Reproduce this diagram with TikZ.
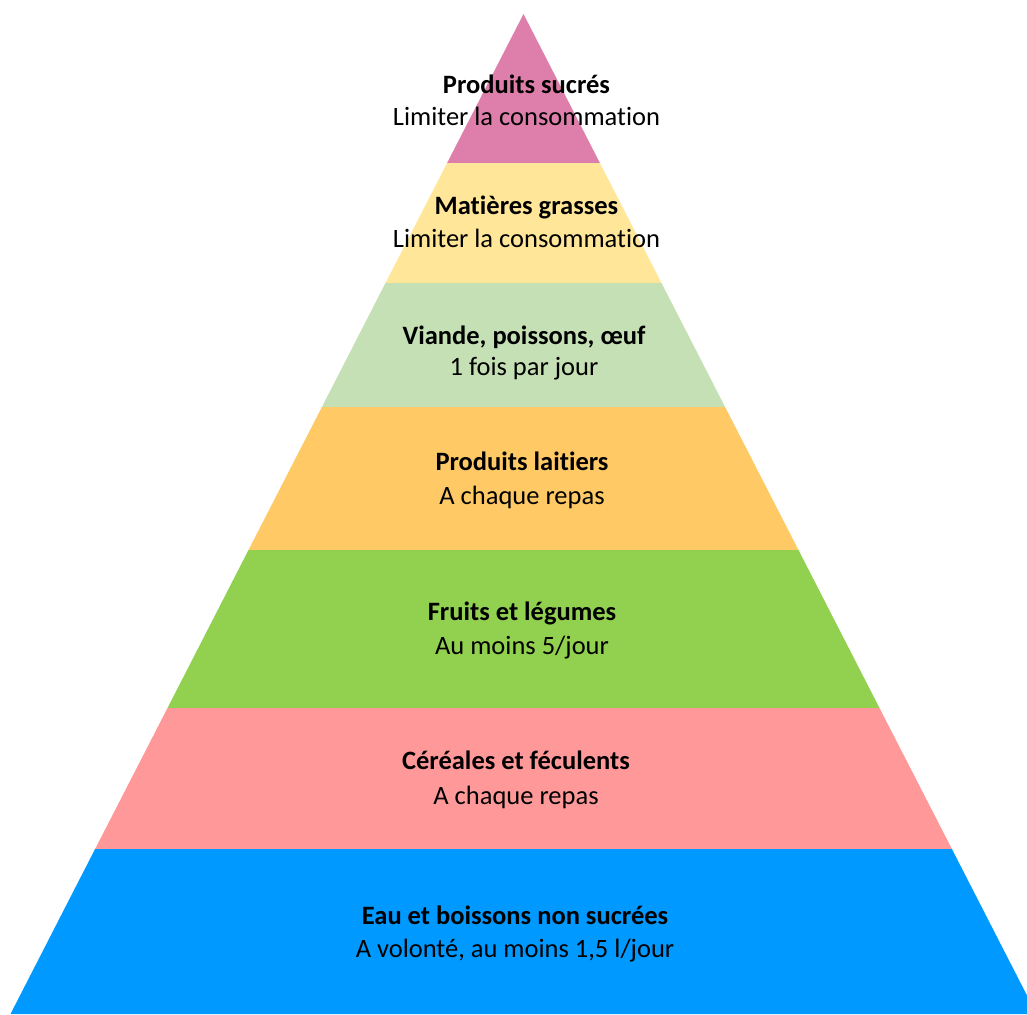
\documentclass[tikz,border=0pt]{standalone}
\usepackage{fontspec}
\setmainfont[Ligatures=NoCommon]{Carlito}
\definecolor{cSucre}{HTML}{DE7FAB}
\definecolor{cGras}{HTML}{FFE699}
\definecolor{cViande}{HTML}{C5E0B4}
\definecolor{cLait}{HTML}{FFCA66}
\definecolor{cFruit}{HTML}{92D050}
\definecolor{cCereale}{HTML}{FF9999}
\definecolor{cEau}{HTML}{0099FF}
\tikzset{
  band/.style={fill=#1, draw=none},
  ttl/.style={anchor=base, inner sep=0pt, font=\fontsize{26.5}{32}\selectfont\bfseries},
  sub/.style={anchor=base, inner sep=0pt, font=\fontsize{26.5}{32}\selectfont},
}
\begin{document}
\begin{tikzpicture}[x=1pt, y=-1pt]
\useasboundingbox (0,0) rectangle (1027,1014);
\clip (0,0) rectangle (1027,1014);
% boundary coordinates (left L, right R) along the pyramid edges
\coordinate (A)  at (523.5,14);
\coordinate (L1) at (447.1,163);  \coordinate (R1) at (599.9,163);
\coordinate (L2) at (385.5,283);  \coordinate (R2) at (661.5,283);
\coordinate (L3) at (321.9,407);  \coordinate (R3) at (725.1,407);
\coordinate (L4) at (248.5,550);  \coordinate (R4) at (798.5,550);
\coordinate (L5) at (167.5,708);  \coordinate (R5) at (879.5,708);
\coordinate (L6) at (95.1,849);   \coordinate (R6) at (951.9,849);
\coordinate (L7) at (10.5,1014);  \coordinate (R7) at (1036.5,1014);

\fill[band=cSucre]   (A) -- (R1) -- (L1) -- cycle;
\fill[band=cGras]    (L1) -- (R1) -- (R2) -- (L2) -- cycle;
\fill[band=cViande]  (L2) -- (R2) -- (R3) -- (L3) -- cycle;
\fill[band=cLait]    (L3) -- (R3) -- (R4) -- (L4) -- cycle;
\fill[band=cFruit]   (L4) -- (R4) -- (R5) -- (L5) -- cycle;
\fill[band=cCereale] (L5) -- (R5) -- (R6) -- (L6) -- cycle;
\fill[band=cEau]     (L6) -- (R6) -- (R7) -- (L7) -- cycle;

\node[ttl] (t1) at (526.5,94)  {Produits sucrés};
\node[sub] (s1) at (526.5,125) {Limiter la consommation};
\node[ttl] (t2) at (526.5,214) {Matières grasses};
\node[sub] (s2) at (526.5,247) {Limiter la consommation};
\node[ttl] (t3) at (524,344)   {Viande, poissons, œuf};
\node[sub] (s3) at (524,375)   {1 fois par jour};
\node[ttl] (t4) at (522,470)   {Produits laitiers};
\node[sub] (s4) at (522,504)   {A chaque repas};
\node[ttl] (t5) at (522,620)   {Fruits et légumes};
\node[sub] (s5) at (522,654)   {Au moins 5/jour};
\node[ttl] (t6) at (516,769)   {Céréales et féculents};
\node[sub] (s6) at (516,804)   {A chaque repas};
\node[ttl] (t7) at (515,924)   {Eau et boissons non sucrées};
\node[sub] (s7) at (515,957)   {A volonté, au moins 1,5 l/jour};
\end{tikzpicture}
\end{document}
